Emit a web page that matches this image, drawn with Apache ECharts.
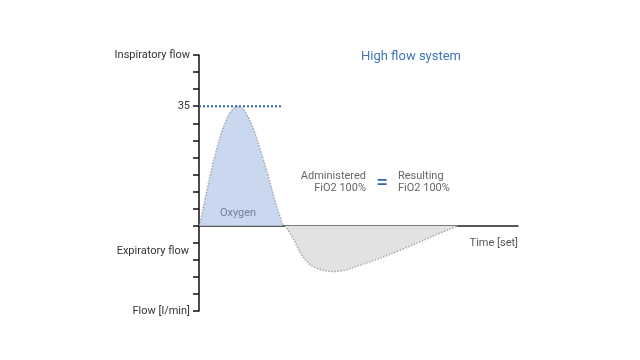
<!DOCTYPE html>
<html><head><meta charset="utf-8">
<script src="https://cdn.jsdelivr.net/npm/echarts@6/dist/echarts.min.js"></script>
<style>html,body{margin:0;padding:0;background:#fff}#c{width:640px;height:360px}</style>
</head><body><div id="c"></div>
<script>
var inspX = [0.2, 1.7, 3.2, 4.7, 6.2, 7.7, 9.2, 10.7, 12.2, 13.8, 15.3, 16.8, 18.3, 19.8, 21.3, 22.8, 24.3, 26.3];
var inspY = [0, 6.8, 13.4, 19.4, 24.7, 29.1, 32.3, 34.3, 35, 34.3, 32.0, 29.0, 25.0, 20.5, 15.8, 10.8, 5.8, 0];
var expX = [27.0, 29.2, 32.6, 36.4, 42.6, 52.0, 63.6, 73.0, 81.2];
var expY = [0, -3.2, -9.1, -12.3, -13.4, -11.1, -7.0, -3.2, 0];
var peakValue = 35;
var peakLineX = [0, 26];
var yTickLabels = {50: 'Inspiratory flow', 35: '35', '-25': 'Flow [l/min]'};
var expLabelValue = -7.5;

function pairs(xs, ys){ return xs.map(function(x,i){return [x, ys[i]];}); }

var chart = echarts.init(document.getElementById('c'));
var font = 'Roboto, "Noto Sans", sans-serif';
chart.setOption({
  animation: false,
  grid: {left: 199, right: 122, top: 55, bottom: 49},
  xAxis: {type: 'value', min: 0, max: 100,
    axisLine: {onZero: true, lineStyle: {color: '#222', width: 1.5}},
    axisTick: {show: false}, axisLabel: {show: false}, splitLine: {show: false}},
  yAxis: {type: 'value', min: -25, max: 50, interval: 5,
    axisLine: {show: true, lineStyle: {color: '#111', width: 1.5}},
    axisTick: {show: true, length: 6, lineStyle: {color: '#111', width: 1.5}},
    splitLine: {show: false},
    axisLabel: {margin: 9, color: '#333', fontSize: 11, fontFamily: font,
      formatter: function(v){ return yTickLabels[v] || ''; }}},
  series: [
    {type: 'line', data: pairs(inspX, inspY), smooth: 0.2, symbol: 'none',
     lineStyle: {type: 'dotted', color: '#a3a8b0', width: 1.5},
     areaStyle: {color: '#c9d8ee', opacity: 1, origin: 0}, z: 2},
    {type: 'line', data: pairs(expX, expY), smooth: 0.35, symbol: 'none',
     lineStyle: {type: 'dotted', color: '#a8a8a8', width: 1.5},
     areaStyle: {color: '#e2e2e2', opacity: 1, origin: 0}, z: 2},
    {type: 'line', data: [[peakLineX[0], peakValue], [peakLineX[1], peakValue]], symbol: 'none',
     lineStyle: {type: 'dotted', color: '#2e64a8', width: 2}, z: 3}
  ]
});

var yExp = chart.convertToPixel({yAxisIndex: 0}, expLabelValue);
var y0 = chart.convertToPixel({yAxisIndex: 0}, 0);
var xEnd = chart.convertToPixel({xAxisIndex: 0}, 100);
chart.setOption({
  graphic: [
    {type: 'text', z: 100, x: 189, y: yExp, style: {text: 'Expiratory flow', fill: '#333', font: '11px ' + font, align: 'right', verticalAlign: 'middle'}},
    {type: 'text', z: 100, x: xEnd, y: y0 + 18, style: {text: 'Time [set]', fill: '#555', font: '11px ' + font, align: 'right', verticalAlign: 'middle'}},
    {type: 'text', z: 100, x: 411, y: 57, style: {text: 'High flow system', fill: '#3f76b5', font: '13px ' + font, align: 'center', verticalAlign: 'middle'}},
    {type: 'text', z: 100, x: 366, y: 182, style: {text: 'Administered\nFiO2 100%', fill: '#666', font: '11px ' + font, align: 'right', verticalAlign: 'middle', lineHeight: 12}},
    {type: 'text', z: 100, x: 382, y: 183, style: {text: '=', fill: '#2e64a8', font: '22px ' + font, align: 'center', verticalAlign: 'middle'}},
    {type: 'text', z: 100, x: 398, y: 182, style: {text: 'Resulting\nFiO2 100%', fill: '#666', font: '11px ' + font, align: 'left', verticalAlign: 'middle', lineHeight: 12}},
    {type: 'text', z: 100, x: 238, y: 213, style: {text: 'Oxygen', fill: '#6f7f99', font: '11px ' + font, align: 'center', verticalAlign: 'middle'}}
  ]
});
</script></body></html>
